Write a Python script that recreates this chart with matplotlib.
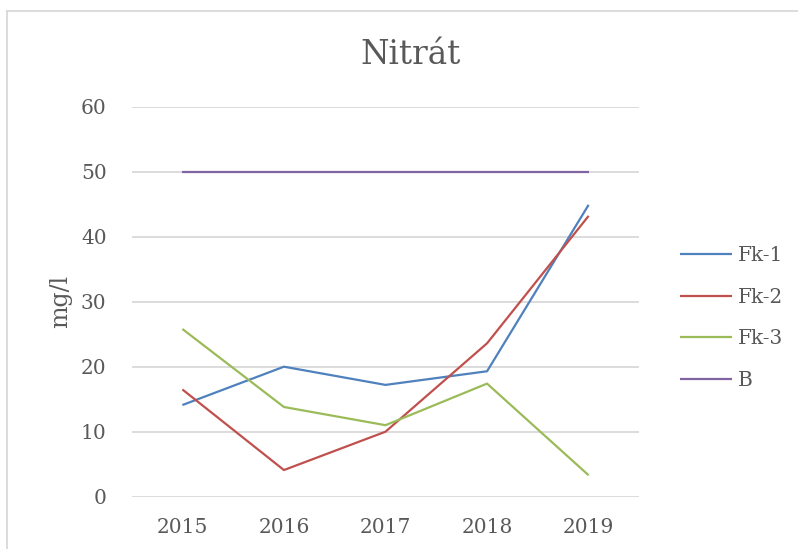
import matplotlib
matplotlib.use("Agg")
import matplotlib.pyplot as plt
from matplotlib.lines import Line2D

years = ["2015", "2016", "2017", "2018", "2019"]
fk1 = [14.1, 20.0, 17.2, 19.3, 44.9]
fk2 = [16.5, 4.1, 10.0, 23.6, 43.2]
fk3 = [25.8, 13.8, 11.0, 17.4, 3.3]
b = [50, 50, 50, 50, 50]
series_names = ["Fk-1", "Fk-2", "Fk-3", "B"]
colors = ["#4F81BD", "#C0504D", "#9BBB59", "#8064A2"]
yticks = [0, 10, 20, 30, 40, 50, 60]

plt.rcParams['font.family'] = ['DejaVu Serif']
txt = "#595959"

fig = plt.figure(figsize=(7.98, 5.49), dpi=100)
ax_left, ax_right = 131.6, 639.4
ax = fig.add_axes([ax_left/798, 1-496.7/549, (ax_right-ax_left)/798, 390/549])

x = list(range(len(years)))
for vals, name, c in zip([fk1, fk2, fk3, b], series_names, colors):
    ax.plot(x, vals, color=c, lw=1.6, label=name, solid_capstyle='butt')

ax.set_xlim(-0.5, len(years)-0.5)
ax.set_ylim(0, 60)
ax.set_yticks(yticks)
ax.set_xticks(x)
ax.set_xticklabels(years)
ax.yaxis.grid(True, color="#D9D9D9", lw=1.3)
ax.set_axisbelow(True)
for s in ax.spines.values():
    s.set_visible(False)
ax.tick_params(axis='both', length=0, labelsize=14.5, colors=txt)
ax.tick_params(axis='y', pad=18)
ax.tick_params(axis='x', pad=15)
ax.set_ylabel("mg/l", fontsize=17, color=txt)
ax.yaxis.set_label_coords((61-ax_left)/(ax_right-ax_left), 0.5)
ax.yaxis.label.set_va('center')

fig.text(411/798, 1-55/549, "Nitrát", ha='center', va='center', fontsize=23.5, color=txt)

leg = fig.legend(loc='center left', bbox_to_anchor=(680/798, 1-318/549), frameon=False,
                 fontsize=14.5, handlelength=2.6, handletextpad=0.25, labelspacing=1.12,
                 borderpad=0, borderaxespad=0)
for t in leg.get_texts():
    t.set_color(txt)

# chart area border
fig.add_artist(Line2D([7/798, 7/798], [0, 1-11/549], transform=fig.transFigure, color="#D9D9D9", lw=1.3))
fig.add_artist(Line2D([7/798, 1], [1-11/549, 1-11/549], transform=fig.transFigure, color="#D9D9D9", lw=1.3))

fig.savefig("out.png", dpi=100)
